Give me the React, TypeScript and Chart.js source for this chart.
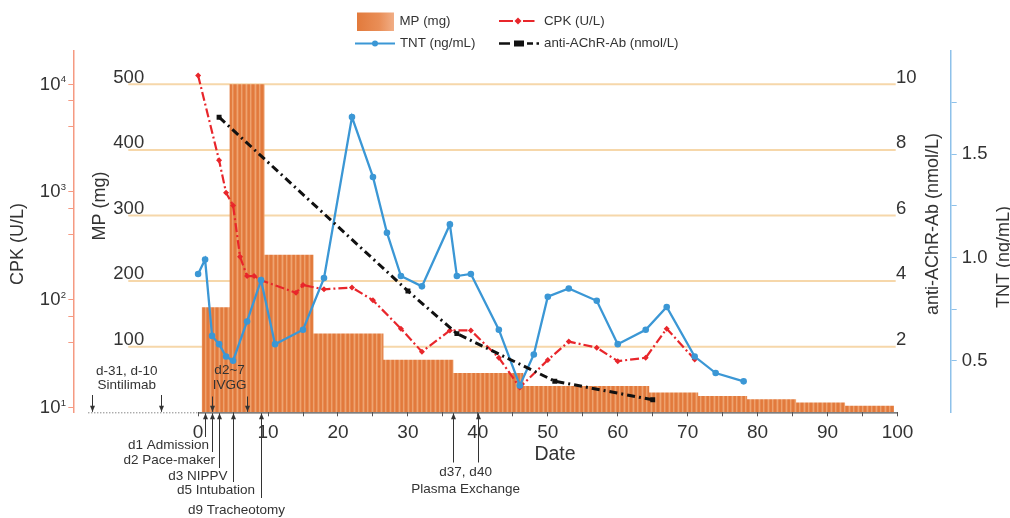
import { useEffect, useRef } from 'react';
import { Chart, registerables } from 'chart.js';
Chart.register(...registerables);

const FONT = "'Liberation Sans', Arial, Helvetica, sans-serif";
const TEXT = '#333333';

// ---- data ----
const mpStartDay = [0.5, 4.5, 9.5, 16.5, 26.5, 36.5, 46.5, 64.5, 71.5, 78.5, 85.5, 92.5];
const mpDose = [160, 500, 240, 120, 80, 60, 40, 30, 25, 20, 15, 10];
const mpEndDay = 99.5;

const cpkDay = [0, 3, 4, 5, 6, 7, 8, 9, 14, 15, 18, 22, 25, 29, 32, 36, 39, 43, 46, 50, 53, 57, 60, 64, 67, 71];
const cpkValue = [12000, 1960, 980, 750, 250, 166, 166, 152, 116, 137, 125, 130, 99, 54, 33, 52, 52, 29, 15.4, 27.7, 41, 36, 27, 29, 54, 28];

const tntDay = [0, 1, 2, 3, 4, 5, 7, 9, 11, 15, 18, 22, 25, 27, 29, 32, 36, 37, 39, 43, 46, 48, 50, 53, 57, 60, 64, 67, 71, 74, 78];
const tntValue = [0.92, 0.99, 0.62, 0.58, 0.52, 0.5, 0.69, 0.89, 0.58, 0.65, 0.9, 1.68, 1.39, 1.12, 0.91, 0.86, 1.16, 0.91, 0.92, 0.65, 0.38, 0.53, 0.81, 0.85, 0.79, 0.58, 0.65, 0.76, 0.52, 0.44, 0.4];

const achrDay = [3, 30, 37, 51, 65];
const achrValue = [9.0, 3.7, 2.4, 0.95, 0.38];

// ---- ticks ----
const xTickValues = [0, 5, 10, 15, 20, 25, 30, 35, 40, 45, 50, 55, 60, 65, 70, 75, 80, 85, 90, 95, 100];
const mpTickValues = [100, 200, 300, 400, 500];
const achrTickValues = [2, 4, 6, 8, 10];
const cpkMajorTicks = [10, 100, 1000, 10000];
const cpkAllTicks = [10, 40, 70, 100, 400, 700, 1000, 4000, 7000, 10000];
const tntTickValues = [0.5, 0.75, 1.0, 1.25, 1.5, 1.75];

// ---- annotations ----
const sintilimabDays = [-15.1, -5.3];
const ivggDays = [2, 7];
const eventDays = [1, 2, 3, 5, 9];
const eventLabels = ['d1 Admission', 'd2 Pace-maker', 'd3 NIPPV', 'd5 Intubation', 'd9 Tracheotomy'];
const peDays = [36.5, 40];

// layout of the event labels (pixel offsets)
const eventTextDx = [3.5, 2.5, 8, 21.5, 23.5];
const eventTextY = [445.5, 460, 476.5, 490.5, 510];
const eventLineEnd = [437, 452, 468, 482, 498];

function drawText(ctx: CanvasRenderingContext2D, s: string, x: number, y: number, size: number,
  align: CanvasTextAlign = 'left', baseline: CanvasTextBaseline = 'middle', rot = 0) {
  ctx.save();
  ctx.font = `${size}px ${FONT}`;
  ctx.fillStyle = TEXT;
  ctx.textAlign = align;
  ctx.textBaseline = baseline;
  ctx.translate(x, y);
  if (rot) ctx.rotate(rot);
  ctx.fillText(s, 0, 0);
  ctx.restore();
}

function drawArrow(ctx: CanvasRenderingContext2D, x: number, y1: number, y2: number, headTop: boolean) {
  ctx.save();
  ctx.strokeStyle = '#333';
  ctx.fillStyle = '#333';
  ctx.lineWidth = 1;
  ctx.beginPath();
  ctx.moveTo(x, y1);
  ctx.lineTo(x, y2);
  ctx.stroke();
  const tip = headTop ? Math.min(y1, y2) : Math.max(y1, y2);
  const dir = headTop ? 1 : -1;
  ctx.beginPath();
  ctx.moveTo(x, tip);
  ctx.lineTo(x - 2.5, tip + dir * 6);
  ctx.lineTo(x + 2.5, tip + dir * 6);
  ctx.closePath();
  ctx.fill();
  ctx.restore();
}

const decorPlugin = {
  id: 'decor',
  beforeDatasetsDraw(chart: any) {
    const ctx: CanvasRenderingContext2D = chart.ctx;
    const mp = chart.scales.mp;
    ctx.save();
    ctx.strokeStyle = '#F6D7AA';
    ctx.lineWidth = 2;
    for (const v of mpTickValues) {
      const y = mp.getPixelForValue(v);
      ctx.beginPath();
      ctx.moveTo(128.3, y);
      ctx.lineTo(895.7, y);
      ctx.stroke();
    }
    ctx.restore();
  },
  afterDraw(chart: any) {
    const ctx: CanvasRenderingContext2D = chart.ctx;
    const { x, mp, cpk, achr } = chart.scales;
    const area = chart.chartArea;
    const yAxis = area.bottom;
    const X = (d: number) => x.getPixelForValue(d);

    // x axis line: dotted before day 0, solid after
    ctx.save();
    ctx.strokeStyle = '#555';
    ctx.lineWidth = 1;
    ctx.setLineDash([1, 2]);
    ctx.beginPath();
    ctx.moveTo(area.left, yAxis + 0.5);
    ctx.lineTo(X(0), yAxis + 0.5);
    ctx.stroke();
    ctx.setLineDash([]);
    ctx.lineWidth = 1.3;
    ctx.beginPath();
    ctx.moveTo(X(0), yAxis + 0.5);
    ctx.lineTo(X(100), yAxis + 0.5);
    ctx.stroke();
    ctx.restore();

    // MP labels
    for (const v of mpTickValues) {
      drawText(ctx, String(v), 113.3, mp.getPixelForValue(v) - 1.7, 18.5, 'left', 'alphabetic');
    }
    // anti-AChR-Ab labels
    for (const v of achrTickValues) {
      drawText(ctx, String(v), 896, achr.getPixelForValue(v) - 1.7, 18.5, 'left', 'alphabetic');
    }
    // CPK labels 10^n
    for (const v of cpkMajorTicks) {
      const y = cpk.getPixelForValue(v);
      const exp = String(Math.round(Math.log10(v)));
      ctx.save();
      ctx.font = `9.5px ${FONT}`;
      const supW = ctx.measureText(exp).width;
      ctx.restore();
      drawText(ctx, exp, 66, y - 1.8, 9.5, 'right', 'alphabetic');
      drawText(ctx, '10', 66 - supW - 0.3, y + 0.5, 18.5, 'right', 'middle');
    }

    // axis titles
    drawText(ctx, 'CPK (U/L)', 18, 244, 18, 'center', 'middle', -Math.PI / 2);
    drawText(ctx, 'MP (mg)', 100, 206, 18, 'center', 'middle', -Math.PI / 2);
    drawText(ctx, 'anti-AChR-Ab (nmol/L)', 933.5, 224, 18, 'center', 'middle', -Math.PI / 2);
    drawText(ctx, 'TNT (ng/mL)', 1004, 257, 18, 'center', 'middle', -Math.PI / 2);
    drawText(ctx, 'Date', 555, 454.5, 19.5, 'center', 'middle');

    // Sintilimab
    for (const d of sintilimabDays) drawArrow(ctx, Math.round(X(d)) + 0.5, 395, yAxis - 0.5, false);
    const sx = (X(sintilimabDays[0]) + X(sintilimabDays[1])) / 2;
    drawText(ctx, 'd-31, d-10', sx, 371, 13.5, 'center');
    drawText(ctx, 'Sintilimab', sx, 385.5, 13.5, 'center');

    // IVGG
    for (const d of ivggDays) drawArrow(ctx, Math.round(X(d)) + 0.5, 396.5, yAxis - 0.5, false);
    const ix = (X(ivggDays[0]) + X(ivggDays[1])) / 2;
    drawText(ctx, 'd2~7', ix, 370, 13.5, 'center');
    drawText(ctx, 'IVGG', ix, 385, 13.5, 'center');

    // events below axis
    eventDays.forEach((d, i) => {
      const px = Math.round(X(d)) + 0.5;
      drawArrow(ctx, px, yAxis + 1, eventLineEnd[i], true);
      drawText(ctx, eventLabels[i], px + eventTextDx[i], eventTextY[i], 13.5, 'right');
    });

    // plasma exchange
    for (const d of peDays) drawArrow(ctx, Math.round(X(d)) + 0.5, yAxis + 1, 462.5, true);
    const px2 = (X(peDays[0]) + X(peDays[1])) / 2;
    drawText(ctx, 'd37, d40', px2, 472.5, 13.5, 'center');
    drawText(ctx, 'Plasma Exchange', px2, 489.5, 13.5, 'center');

    // legend
    ctx.save();
    const g = ctx.createLinearGradient(357, 0, 394, 0);
    g.addColorStop(0, '#E27A3C');
    g.addColorStop(0.6, '#E98E57');
    g.addColorStop(1, '#F1AE86');
    ctx.fillStyle = g;
    ctx.fillRect(357, 12.5, 37, 18.5);
    ctx.restore();
    drawText(ctx, 'MP (mg)', 399.5, 21.5, 13.3);

    ctx.save();
    ctx.strokeStyle = '#E8262B';
    ctx.lineWidth = 2;
    ctx.beginPath();
    ctx.moveTo(499, 21); ctx.lineTo(513, 21);
    ctx.moveTo(523, 21); ctx.lineTo(534.5, 21);
    ctx.stroke();
    ctx.fillStyle = '#E8262B';
    ctx.beginPath();
    ctx.moveTo(518, 17.5); ctx.lineTo(521.5, 21); ctx.lineTo(518, 24.5); ctx.lineTo(514.5, 21); ctx.closePath();
    ctx.fill();
    ctx.restore();
    drawText(ctx, 'CPK (U/L)', 544, 21.5, 13.3);

    ctx.save();
    ctx.strokeStyle = '#3B97D5';
    ctx.fillStyle = '#3B97D5';
    ctx.lineWidth = 2;
    ctx.beginPath();
    ctx.moveTo(355, 43.5); ctx.lineTo(395, 43.5);
    ctx.stroke();
    ctx.beginPath();
    ctx.arc(375, 43.5, 3, 0, Math.PI * 2);
    ctx.fill();
    ctx.restore();
    drawText(ctx, 'TNT (ng/mL)', 400, 43.5, 13.3);

    ctx.save();
    ctx.strokeStyle = '#111';
    ctx.fillStyle = '#111';
    ctx.lineWidth = 2.5;
    ctx.beginPath();
    ctx.moveTo(499, 43.5); ctx.lineTo(510, 43.5);
    ctx.moveTo(527, 43.5); ctx.lineTo(533, 43.5);
    ctx.moveTo(536.5, 43.5); ctx.lineTo(539, 43.5);
    ctx.stroke();
    ctx.fillRect(514, 40.5, 10, 6);
    ctx.restore();
    drawText(ctx, 'anti-AChR-Ab (nmol/L)', 544, 43.5, 13.3);
  },
};

function makeStripePattern(ctx: CanvasRenderingContext2D) {
  const c = document.createElement('canvas');
  c.width = 9;
  c.height = 8;
  const g = c.getContext('2d')!;
  const cols = ['#E27A3C', '#E27A3C', '#E78B54', '#EFA570', '#E68850', '#E27A3C', '#E37D40', '#EEA26D', '#E78B54'];
  cols.forEach((col, i) => {
    g.fillStyle = col;
    g.fillRect(i, 0, 1, 8);
  });
  return ctx.createPattern(c, 'repeat');
}

export default function App() {
  const ref = useRef<HTMLCanvasElement | null>(null);

  useEffect(() => {
    const canvas = ref.current!;
    const ctx = canvas.getContext('2d')!;
    const pattern = makeStripePattern(ctx);

    const mpData = mpStartDay.map((d, i) => ({ x: d, y: mpDose[i] }));
    mpData.push({ x: mpEndDay, y: mpDose[mpDose.length - 1] });

    const chart = new Chart(canvas, {
      type: 'line',
      data: {
        datasets: [
          {
            label: 'MP (mg)',
            data: mpData,
            yAxisID: 'mp',
            stepped: true,
            fill: 'origin',
            backgroundColor: pattern as any,
            borderWidth: 0,
            borderColor: 'rgba(0,0,0,0)',
            pointRadius: 0,
            order: 10,
          },
          {
            label: 'CPK (U/L)',
            data: cpkDay.map((d, i) => ({ x: d, y: cpkValue[i] })),
            yAxisID: 'cpk',
            borderColor: '#E8262B',
            backgroundColor: '#E8262B',
            borderWidth: 2.2,
            borderDash: [9, 3, 2, 3],
            pointStyle: 'rectRot',
            pointRadius: 3,
            pointBorderWidth: 0,
            fill: false,
            order: 3,
          },
          {
            label: 'TNT (ng/mL)',
            data: tntDay.map((d, i) => ({ x: d, y: tntValue[i] })),
            yAxisID: 'tnt',
            borderColor: '#3B97D5',
            backgroundColor: '#3B97D5',
            borderWidth: 2.3,
            pointRadius: 3.3,
            pointBorderWidth: 0,
            fill: false,
            order: 2,
          },
          {
            label: 'anti-AChR-Ab (nmol/L)',
            data: achrDay.map((d, i) => ({ x: d, y: achrValue[i] })),
            yAxisID: 'achr',
            borderColor: '#111111',
            backgroundColor: '#111111',
            borderWidth: 3,
            borderDash: [8, 4, 2, 4],
            pointStyle: 'rect',
            pointRadius: 3.5,
            pointBorderWidth: 0,
            fill: false,
            order: 1,
          },
        ],
      },
      options: {
        responsive: false,
        animation: false,
        layout: { padding: { top: 51, left: 0, right: 0, bottom: 0 } },
        plugins: { legend: { display: false }, tooltip: { enabled: false } },
        elements: { line: { tension: 0 } },
        scales: {
          x: {
            type: 'linear',
            position: 'bottom',
            min: -15.7,
            max: 100,
            afterBuildTicks: (s: any) => {
              s.ticks = xTickValues.map((v) => ({ value: v }));
            },
            afterFit: (s: any) => {
              s.height = 105.7;
            },
            border: { display: false },
            grid: { display: true, drawOnChartArea: false, drawTicks: true, tickLength: 4, color: '#555' },
            ticks: {
              autoSkip: false,
              maxRotation: 0,
              padding: 5,
              color: TEXT,
              font: { size: 19, family: FONT },
              callback: (v: any) => (Number(v) % 10 === 0 ? String(v) : ''),
            },
          },
          cpk: {
            type: 'logarithmic',
            position: 'left',
            weight: 1,
            min: 9.06,
            max: 20230,
            afterBuildTicks: (s: any) => {
              s.ticks = cpkAllTicks.map((v) => ({ value: v }));
            },
            afterFit: (s: any) => {
              s.width = 73.3;
            },
            border: { display: true, color: '#F59A82', width: 1.5 },
            grid: { display: true, drawOnChartArea: false, drawTicks: true, tickLength: 5, color: '#F59A82', lineWidth: 1 },
            ticks: { display: false },
          },
          mp: {
            type: 'linear',
            position: 'left',
            weight: 0,
            min: 0,
            max: 550.8,
            afterFit: (s: any) => {
              s.width = 15;
            },
            border: { display: false },
            grid: { display: false },
            ticks: { display: false },
          },
          achr: {
            type: 'linear',
            position: 'right',
            weight: 0,
            min: 0,
            max: 11.02,
            afterFit: (s: any) => {
              s.width = 53.2;
            },
            border: { display: false },
            grid: { display: false },
            ticks: { display: false },
          },
          tnt: {
            type: 'linear',
            position: 'right',
            weight: 1,
            min: 0.25,
            max: 2.0,
            afterBuildTicks: (s: any) => {
              s.ticks = tntTickValues.map((v) => ({ value: v }));
            },
            afterFit: (s: any) => {
              s.width = 59.3;
            },
            border: { display: true, color: '#8EC1EA', width: 1.5 },
            grid: { display: true, drawOnChartArea: false, drawTicks: true, tickLength: 6, color: '#8EC1EA' },
            ticks: {
              padding: 5,
              color: TEXT,
              font: { size: 18.5, family: FONT },
              callback: (v: any) => (Math.round(Number(v) * 100) % 50 === 0 ? Number(v).toFixed(1) : ''),
            },
          },
        },
      } as any,
      plugins: [decorPlugin],
    });

    return () => chart.destroy();
  }, []);

  return (
    <div style={{ position: 'fixed', left: 0, top: 0, width: 1010, height: 518, background: '#fff' }}>
      <canvas ref={ref} width={1010} height={518} style={{ display: 'block', width: 1010, height: 518 }} />
    </div>
  );
}
